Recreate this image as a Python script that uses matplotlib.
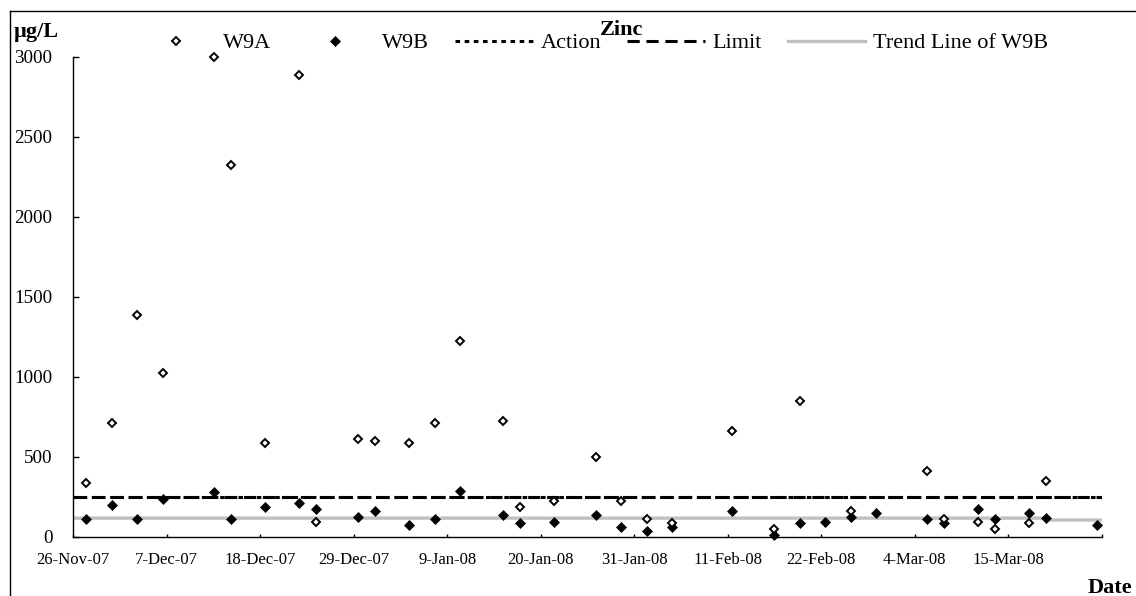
import matplotlib
matplotlib.use("Agg")
import matplotlib.pyplot as plt
from matplotlib.lines import Line2D
import pandas as pd

plt.rcParams['font.family'] = ['Liberation Serif', 'DejaVu Serif']

# Zinc concentrations (ug/L) at W9A and W9B
w9a_dates = ["2007-11-27", "2007-11-30", "2007-12-03", "2007-12-06", "2007-12-12",
             "2007-12-14", "2007-12-18", "2007-12-22", "2007-12-24", "2007-12-29",
             "2007-12-31", "2008-01-04", "2008-01-07", "2008-01-10", "2008-01-15",
             "2008-01-17", "2008-01-21", "2008-01-26", "2008-01-29", "2008-02-01",
             "2008-02-04", "2008-02-11", "2008-02-16", "2008-02-19", "2008-02-25",
             "2008-03-05", "2008-03-07", "2008-03-11", "2008-03-13", "2008-03-17",
             "2008-03-19"]
w9a_zinc = [337, 709, 1387, 1023, 2998, 2325, 584, 2883, 94, 609,
            596, 584, 709, 1221, 721, 186, 223, 496, 223, 113,
            84, 661, 50, 848, 161, 411, 110, 94, 46, 84, 348]

w9b_dates = ["2007-11-27", "2007-11-30", "2007-12-03", "2007-12-06", "2007-12-12",
             "2007-12-14", "2007-12-18", "2007-12-22", "2007-12-24", "2007-12-29",
             "2007-12-31", "2008-01-04", "2008-01-07", "2008-01-10", "2008-01-15",
             "2008-01-17", "2008-01-21", "2008-01-26", "2008-01-29", "2008-02-01",
             "2008-02-04", "2008-02-11", "2008-02-16", "2008-02-19", "2008-02-22",
             "2008-02-25", "2008-02-28", "2008-03-05", "2008-03-07", "2008-03-11",
             "2008-03-13", "2008-03-17", "2008-03-19", "2008-03-25"]
w9b_zinc = [109, 196, 109, 236, 277, 109, 184, 209, 171, 123,
            162, 71, 111, 288, 138, 84, 92, 136, 61, 34,
            61, 161, 9, 84, 92, 125, 146, 111, 84, 173,
            111, 150, 115, 73]

trend_dates = ["2007-11-26 00:00", "2008-03-19 08:00", "2008-03-20 00:00", "2008-03-26 00:00"]
trend_zinc = [116, 116, 104, 104]

action_level = 250
limit_level = 250

start, end = "2007-11-26", "2008-03-26"

# samples were taken around midday
t_a = pd.to_datetime(w9a_dates) + pd.Timedelta(hours=12)
t_b = pd.to_datetime(w9b_dates) + pd.Timedelta(hours=12)
t_trend = pd.to_datetime(trend_dates)
t_span = pd.to_datetime([start, end])

fig = plt.figure(figsize=(11.36, 5.96), dpi=100)
ax = fig.add_axes([73.3 / 1136, 59.3 / 596, 1028.4 / 1136, 480 / 596])

ax.plot(t_span, [action_level, action_level], color='black', lw=2.2,
        dashes=(1.5, 1.5), label='Action', zorder=2)
ax.plot(t_span, [limit_level, limit_level], color='black', lw=2.2,
        dashes=(4, 2.2), label='Limit', zorder=2)
ax.plot(t_trend, trend_zinc, color='#c0c0c0', lw=2.4, label='Trend Line of W9B', zorder=1)
ax.plot(t_a, w9a_zinc, ls='none', marker='D', ms=4.4, mfc='white', mec='black',
        mew=1.4, label='W9A', zorder=4, clip_on=False)
ax.plot(t_b, w9b_zinc, ls='none', marker='D', ms=5.3, mfc='black', mec='black',
        mew=0.5, label='W9B', zorder=3, clip_on=False)

ax.set_xlim(t_span[0], t_span[1])
ax.set_ylim(0, 3000)
ax.set_yticks(range(0, 3001, 500))

ticks = pd.date_range(start, end, freq='11D')
ax.set_xticks(ticks)
ax.set_xticklabels([f"{d.day}-{d.strftime('%b-%y')}" for d in ticks[:-1]] + [''])

for s in ['top', 'right']:
    ax.spines[s].set_visible(False)
for s in ['left', 'bottom']:
    ax.spines[s].set_linewidth(1.0)

ax.tick_params(axis='y', direction='in', length=4.5, width=1, pad=15, labelsize=13.8)
ax.tick_params(axis='x', direction='in', length=2.5, width=1, pad=11, labelsize=12)

# legend in the original order
h, l = ax.get_legend_handles_labels()
order = ['W9A', 'W9B', 'Action', 'Limit', 'Trend Line of W9B']
hl = dict(zip(l, h))
leg = fig.legend([hl[k] for k in order], order, loc='center left',
                 bbox_to_anchor=(137 / 1136, 1 - 43 / 596), ncol=5, frameon=False,
                 fontsize=16, handlelength=3.5, handletextpad=0.35, columnspacing=1.16,
                 borderpad=0, borderaxespad=0)

fig.text(622 / 1136, 1 - 30 / 596, 'Zinc', ha='center', va='center',
         fontsize=16, fontweight='bold')
fig.text(14 / 1136, 1 - 32 / 596, 'µg/L', ha='left', va='center',
         fontsize=16, fontweight='bold')
fig.text(1110 / 1136, 1 - 588 / 596, 'Date', ha='center', va='center',
         fontsize=16, fontweight='bold')

# chart frame (open at right and bottom)
fig.add_artist(Line2D([10 / 1136, 1], [1 - 11 / 596, 1 - 11 / 596], color='black', lw=1))
fig.add_artist(Line2D([10 / 1136, 10 / 1136], [0, 1 - 11 / 596], color='black', lw=1))

fig.savefig('out.png', dpi=100)
